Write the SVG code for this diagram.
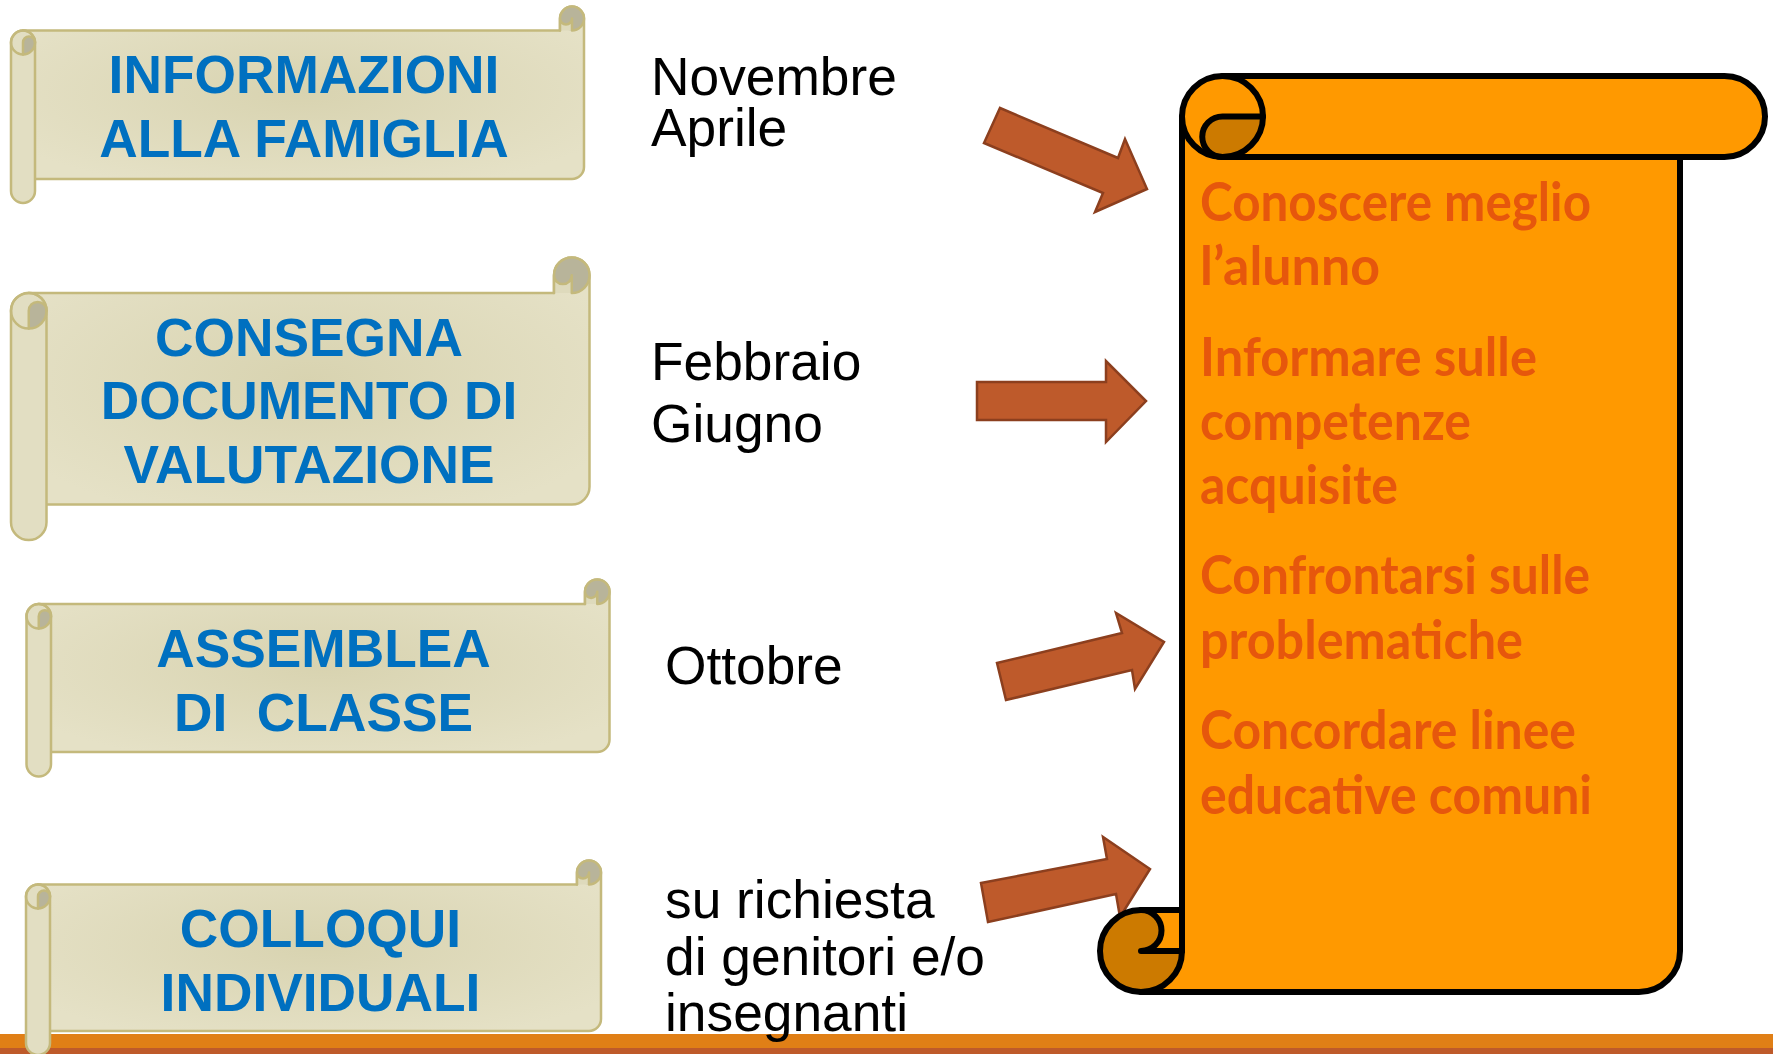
<svg xmlns="http://www.w3.org/2000/svg" width="1773" height="1054" viewBox="0 0 1773 1054">
<defs>
<radialGradient id="beige" cx="0.5" cy="0.5" r="0.6">
<stop offset="0" stop-color="#D8D3B0"/>
<stop offset="1" stop-color="#E5E1C6"/>
</radialGradient>
<style>
.band{fill:url(#beige);stroke:#C4B97C;stroke-width:2.5;stroke-linejoin:round}
.roll{fill:#E2DEC2;stroke:#C4B97C;stroke-width:2.5;stroke-linejoin:round}
.curl{fill:#B8B49A;stroke:none}
.notch{fill:#DEDABC;stroke:none}
.sline{fill:none;stroke:#C4B97C;stroke-width:2.5;stroke-linecap:round;stroke-linejoin:round}
.blue{font-family:"Liberation Sans",Arial,sans-serif;font-weight:bold;font-size:53.3px;fill:#0070C0;text-anchor:middle}
.black{font-family:"Liberation Sans",Arial,sans-serif;font-size:53.3px;fill:#000000}
.otxt{font-family:Lato,"Open Sans",sans-serif;font-weight:bold;font-size:53.3px;fill:#E6570C}
.arrow{fill:#BE5A2B;stroke:#8C3F1E;stroke-width:2.5;stroke-linejoin:miter}
.ofill{fill:#FF9900;stroke:none}
.odark{fill:#CC7A00;stroke:none}
.oline{fill:none;stroke:#000000;stroke-width:6;stroke-linecap:round;stroke-linejoin:round}
</style>
</defs>
<rect x="0" y="0" width="1773" height="1054" fill="#FFFFFF"/>
<g id="bottom-bar">
<rect x="0" y="1034" width="1773" height="14" fill="#E07F16"/>
<rect x="0" y="1048" width="1773" height="6" fill="#BE5A2A"/>
</g>
<g id="scroll-informazioni">
<path class="band" d="M23,30.5 H560 V18.5 A12,12 0 0 1 584,18.5 V167 A12,12 0 0 1 572,179 H23 Z"/>
<circle class="curl" cx="572" cy="18.5" r="12"/>
<path class="notch" d="M560,18.5 A6,6 0 0 0 572,18.5 V30.5 H560 Z"/>
<path class="sline" d="M560,30.5 V18.5 A12,12 0 0 1 584,18.5 A12,12 0 0 1 572,30.5 M560,18.5 A6,6 0 0 0 572,18.5 V30.5"/>
<path class="roll" d="M11,42.5 A12,12 0 0 1 35,42.5 V191 A12,12 0 0 1 11,191 Z"/>
<path class="curl" d="M23,42.5 A6,6 0 0 1 35,42.5 A12,12 0 0 1 23,54.5 Z"/>
<circle class="sline" cx="23" cy="42.5" r="12"/>
<path class="sline" d="M23,54.5 V42.5 A6,6 0 0 1 35,42.5"/>
<text class="blue" x="304" y="93">INFORMAZIONI</text>
<text class="blue" x="304" y="157">ALLA FAMIGLIA</text>
</g>
<g id="scroll-consegna">
<path class="band" d="M28.75,293 H554 V275.25 A17.75,17.75 0 0 1 589.5,275.25 V486.75 A17.75,17.75 0 0 1 571.75,504.5 H28.75 Z"/>
<circle class="curl" cx="571.75" cy="275.25" r="17.75"/>
<path class="notch" d="M554,275.25 A8.875,8.875 0 0 0 571.75,275.25 V293 H554 Z"/>
<path class="sline" d="M554,293 V275.25 A17.75,17.75 0 0 1 589.5,275.25 A17.75,17.75 0 0 1 571.75,293 M554,275.25 A8.875,8.875 0 0 0 571.75,275.25 V293"/>
<path class="roll" d="M11,310.75 A17.75,17.75 0 0 1 46.5,310.75 V522.25 A17.75,17.75 0 0 1 11,522.25 Z"/>
<path class="curl" d="M28.75,310.75 A8.875,8.875 0 0 1 46.5,310.75 A17.75,17.75 0 0 1 28.75,328.5 Z"/>
<circle class="sline" cx="28.75" cy="310.75" r="17.75"/>
<path class="sline" d="M28.75,328.5 V310.75 A8.875,8.875 0 0 1 46.5,310.75"/>
<text class="blue" x="309" y="356">CONSEGNA</text>
<text class="blue" x="309" y="419">DOCUMENTO DI</text>
<text class="blue" x="309" y="483">VALUTAZIONE</text>
</g>
<g id="scroll-assemblea">
<path class="band" d="M38.75,604 H585 V591.75 A12.25,12.25 0 0 1 609.5,591.75 V739.75 A12.25,12.25 0 0 1 597.25,752 H38.75 Z"/>
<circle class="curl" cx="597.25" cy="591.75" r="12.25"/>
<path class="notch" d="M585,591.75 A6.125,6.125 0 0 0 597.25,591.75 V604 H585 Z"/>
<path class="sline" d="M585,604 V591.75 A12.25,12.25 0 0 1 609.5,591.75 A12.25,12.25 0 0 1 597.25,604 M585,591.75 A6.125,6.125 0 0 0 597.25,591.75 V604"/>
<path class="roll" d="M26.5,616.25 A12.25,12.25 0 0 1 51,616.25 V764.25 A12.25,12.25 0 0 1 26.5,764.25 Z"/>
<path class="curl" d="M38.75,616.25 A6.125,6.125 0 0 1 51,616.25 A12.25,12.25 0 0 1 38.75,628.5 Z"/>
<circle class="sline" cx="38.75" cy="616.25" r="12.25"/>
<path class="sline" d="M38.75,628.5 V616.25 A6.125,6.125 0 0 1 51,616.25"/>
<text class="blue" x="323.5" y="667">ASSEMBLEA</text>
<text class="blue" x="323.5" y="731" xml:space="preserve">DI  CLASSE</text>
</g>
<g id="scroll-colloqui">
<path class="band" d="M38,884.5 H577 V872.5 A12,12 0 0 1 601,872.5 V1019 A12,12 0 0 1 589,1031 H38 Z"/>
<circle class="curl" cx="589" cy="872.5" r="12"/>
<path class="notch" d="M577,872.5 A6,6 0 0 0 589,872.5 V884.5 H577 Z"/>
<path class="sline" d="M577,884.5 V872.5 A12,12 0 0 1 601,872.5 A12,12 0 0 1 589,884.5 M577,872.5 A6,6 0 0 0 589,872.5 V884.5"/>
<path class="roll" d="M26,896.5 A12,12 0 0 1 50,896.5 V1043 A12,12 0 0 1 26,1043 Z"/>
<path class="curl" d="M38,896.5 A6,6 0 0 1 50,896.5 A12,12 0 0 1 38,908.5 Z"/>
<circle class="sline" cx="38" cy="896.5" r="12"/>
<path class="sline" d="M38,908.5 V896.5 A6,6 0 0 1 50,896.5"/>
<text class="blue" x="320.5" y="947">COLLOQUI</text>
<text class="blue" x="320.5" y="1011">INDIVIDUALI</text>
</g>
<g id="time-novembre">
<text class="black" x="651" y="95">Novembre</text>
<text class="black" x="651" y="146">Aprile</text>
</g>
<g id="time-febbraio">
<text class="black" x="651" y="380">Febbraio</text>
<text class="black" x="651" y="442">Giugno</text>
</g>
<g id="time-ottobre">
<text class="black" x="665" y="684">Ottobre</text>
</g>
<g id="time-richiesta">
<text class="black" x="665" y="918">su richiesta</text>
<text class="black" x="665" y="975">di genitori e/o</text>
<text class="black" x="665" y="1031">insegnanti</text>
</g>
<g id="connectors">
<polygon class="arrow" points="1000,108 1118,158 1125,139 1147,189 1095,212 1103,193 984,143"/>
<polygon class="arrow" points="977,382 1106,382 1106,361 1146,401 1106,442 1106,420 977,420"/>
<polygon class="arrow" points="997,663 1122,633 1116,613 1164,642 1135,689 1132,670 1006,700"/>
<polygon class="arrow" points="981,883 1107,859 1103,837 1150,869 1120,917 1116,894 988,922"/>
</g>
<g id="scroll-obiettivi">
<path class="ofill" d="M1182,116.5 H1680 V951 A41,41 0 0 1 1639,992 H1141 V951 H1182 Z"/>
<rect class="ofill" x="1182" y="76" width="583" height="81" rx="40.5" ry="40.5"/>
<path class="odark" d="M1222.5,116.5 H1263 A40.5,40.5 0 0 1 1222.5,157 A20.25,20.25 0 0 1 1222.5,116.5 Z"/>
<circle class="odark" cx="1141" cy="951" r="41"/>
<path class="ofill" d="M1141,910 H1182 V951 H1141 A20.5,20.5 0 0 0 1141,910 Z"/>
<path class="oline" d="M1222.5,76 H1724.5 A40.5,40.5 0 0 1 1724.5,157 H1222.5"/>
<circle class="oline" cx="1222.5" cy="116.5" r="40.5"/>
<path class="oline" d="M1263,116.5 H1222.5 A20.25,20.25 0 0 0 1222.5,157"/>
<path class="oline" d="M1182,116.5 V951"/>
<path class="oline" d="M1680,157 V951 A41,41 0 0 1 1639,992 H1141"/>
<path class="oline" d="M1182,910 H1141 A41,41 0 1 0 1182,951"/>
<path class="oline" d="M1141,910 A20.5,20.5 0 0 1 1141,951 H1182"/>
<text class="otxt" x="1200" y="221" textLength="391" lengthAdjust="spacingAndGlyphs">Conoscere meglio</text>
<text class="otxt" x="1200" y="285" textLength="180" lengthAdjust="spacingAndGlyphs">l’alunno</text>
<text class="otxt" x="1200" y="376" textLength="337" lengthAdjust="spacingAndGlyphs">Informare sulle</text>
<text class="otxt" x="1200" y="440" textLength="271" lengthAdjust="spacingAndGlyphs">competenze</text>
<text class="otxt" x="1200" y="504" textLength="198" lengthAdjust="spacingAndGlyphs">acquisite</text>
<text class="otxt" x="1200" y="594" textLength="390" lengthAdjust="spacingAndGlyphs">Confrontarsi sulle</text>
<text class="otxt" x="1200" y="659" textLength="323" lengthAdjust="spacingAndGlyphs">problematiche</text>
<text class="otxt" x="1200" y="749" textLength="376" lengthAdjust="spacingAndGlyphs">Concordare linee</text>
<text class="otxt" x="1200" y="814" textLength="392" lengthAdjust="spacingAndGlyphs">educative comuni</text>
</g>
</svg>
